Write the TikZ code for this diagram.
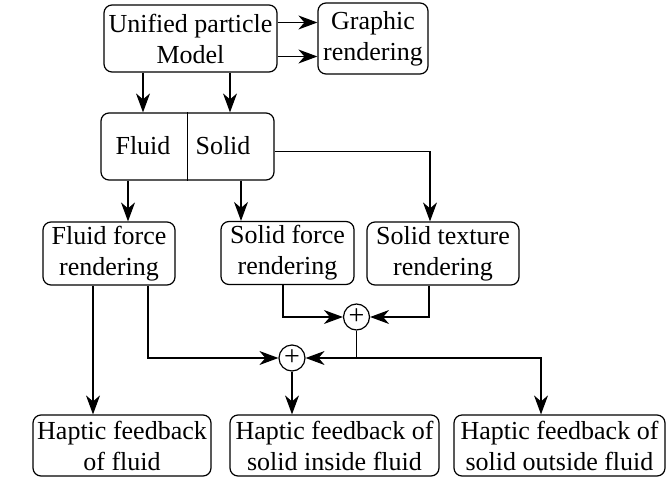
\documentclass[tikz,border=0pt]{standalone}
\usepackage{fontspec}
\setmainfont{Liberation Serif}
\usepackage{tikz}
\usetikzlibrary{arrows.meta,positioning,calc}
\tikzset{>={Stealth[length=19pt,width=14pt,inset=6pt]}}
\tikzset{blk/.style={draw,rounded corners=8pt,align=center,inner sep=2pt,line width=1.2pt,font=\fontsize{26}{31}\selectfont},
	plus/.style={draw,circle,inner sep=0pt,minimum size=26pt,line width=1.2pt,font=\fontsize{28}{28}\selectfont},
	lbl/.style={inner sep=0pt,font=\fontsize{26}{31}\selectfont}}

\begin{document}
\begin{tikzpicture}[x=1pt,y=-1pt,line width=1.2pt]
					\useasboundingbox (0,0) rectangle (668,487);
					%Boxes
					\node[blk,minimum width=173pt,minimum height=67pt] (model) at (190.5,38.5) {Unified particle\\Model};
					\node[blk,minimum width=110pt,minimum height=71pt] (graphic) at (373,38.5) {Graphic\\rendering};
					\node[blk,minimum width=173pt,minimum height=67pt] (mat) at (187.5,146.5) {};
					\node[lbl] (fl) at (143,146) {Fluid};
					\node[lbl] (so) at (223,146) {Solid};
					\draw (mat.north) -- (mat.south);
					
					\node[blk,minimum width=132pt,minimum height=63pt] (ffr) at (109,253.5) {Fluid force\\rendering};
					\node[blk,minimum width=133pt,minimum height=63pt] (sfr) at (287.5,253) {Solid force\\rendering};
					\node[blk,minimum width=152pt,minimum height=63pt] (str) at (443,253.5) {Solid texture\\rendering};
					
					%Sums
					\node[plus] (p1) at (356.5,317) {+};
					\node[plus] (p2) at (292,358) {+};
					\coordinate (jn) at (p1 |- p2);
					
					\node[blk,minimum width=178pt,minimum height=61pt] (hfl) at (122,445.5) {Haptic feedback\\of fluid};
					\node[blk,minimum width=209pt,minimum height=61pt] (hin) at (334.5,445.5) {Haptic feedback of\\solid inside fluid};
					\node[blk,minimum width=211pt,minimum height=61pt] (hout) at (559.5,445.5) {Haptic feedback of\\solid outside fluid};
					
					%Arrows
					\draw[->] ([yshift=16pt]model.east) -- ([yshift=16pt]model.east -| graphic.west);
					\draw[->] ([yshift=-18pt]model.east) -- ([yshift=-18pt]model.east -| graphic.west);
					\draw[->] ([xshift=-47.5pt]model.south) -- ([xshift=-47.5pt]model.south |- mat.north);
					\draw[->] ([xshift=39.5pt]model.south) -- ([xshift=39.5pt]model.south |- mat.north);
					\draw[->] ([xshift=19pt]ffr.north |- mat.south) -- ([xshift=19pt]ffr.north);
					\draw[->] ([xshift=-46.5pt]sfr.north |- mat.south) -- ([xshift=-46.5pt]sfr.north);
					\draw[->] ([yshift=-5pt]mat.east) -| ([xshift=-13pt]str.north);
					\draw[->] ([xshift=-4.5pt]sfr.south) |- (p1);
					\draw[->] ([xshift=-14pt]str.south) |- (p1);
					\draw[->] (p1) |- (p2);
					\draw[->] (jn) -| ([xshift=-18.5pt]hout.north);
					\draw[->] ([xshift=39pt]ffr.south) |- (p2);
					\draw[->] ([xshift=-16pt]ffr.south) -- ([xshift=-16pt]ffr.south |- hfl.north);
					\draw[->] (p2) -- (p2 |- hin.north);
				\end{tikzpicture}
\end{document}
